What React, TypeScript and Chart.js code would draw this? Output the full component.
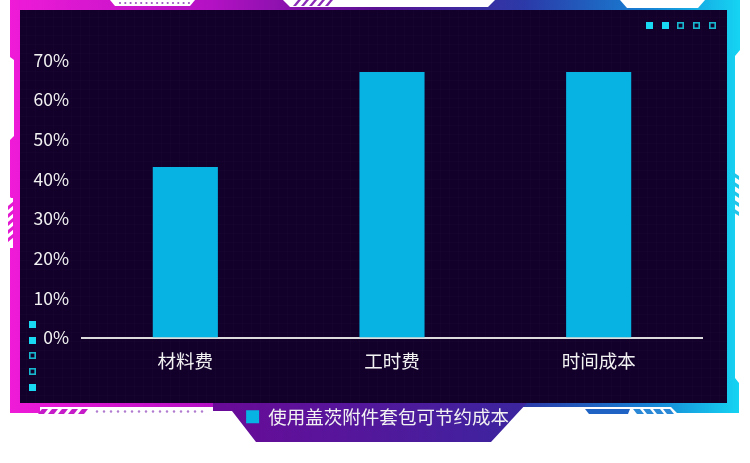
import { useEffect, useRef } from "react";
import { Chart, registerables } from "chart.js";

Chart.register(...registerables);

const categories = ["材料费", "工时费", "时间成本"];
const savings = [43, 67, 67];
const seriesLabel = "使用盖茨附件套包可节约成本";
const yMax = 70;
const yStep = 10;

const FONT = '"Noto Sans CJK SC", "Noto Sans", sans-serif';
const BAR = "#07b3e2";
const CYAN = "#19d9f2";

// legend sits a bit right of the canvas centre in the original
const legendShift = {
  id: "legendShift",
  afterLayout(chart: any) {
    const l = chart.legend;
    if (l) {
      l.left += 12.5;
      l.right += 12.5;
    }
  },
};

function Frame() {
  const leftSquares = [
    { y: 321, filled: true },
    { y: 337, filled: true },
    { y: 352, filled: false },
    { y: 368, filled: false },
    { y: 384, filled: true },
  ];
  const topSquares = [
    { x: 646, filled: true },
    { x: 662, filled: true },
    { x: 677, filled: false },
    { x: 693, filled: false },
    { x: 709, filled: false },
  ];
  const sq = (x: number, y: number, filled: boolean, k: string) =>
    filled ? (
      <rect key={k} x={x} y={y} width={7} height={7} fill={CYAN} />
    ) : (
      <rect key={k} x={x + 0.8} y={y + 0.8} width={5.4} height={5.4} fill="none" stroke="#17b8cf" strokeWidth={1.6} />
    );

  return (
    <svg width={750} height={463} style={{ position: "absolute", left: 0, top: 0 }}>
      <defs>
        <linearGradient id="frameGrad" gradientUnits="userSpaceOnUse" x1="0" y1="0" x2="750" y2="0">
          <stop offset="0" stopColor="#f21bd8" />
          <stop offset="0.28" stopColor="#b411c4" />
          <stop offset="0.5" stopColor="#5a1192" />
          <stop offset="0.7" stopColor="#2b3aa8" />
          <stop offset="0.86" stopColor="#177fd2" />
          <stop offset="1" stopColor="#15ddf6" />
        </linearGradient>
        <linearGradient id="tabGrad" gradientUnits="userSpaceOnUse" x1="213" y1="0" x2="527" y2="0">
          <stop offset="0" stopColor="#6a0a98" />
          <stop offset="1" stopColor="#3b259f" />
        </linearGradient>
        <pattern id="grid" width="9" height="9" patternUnits="userSpaceOnUse">
          <rect width="9" height="9" fill="#12002a" />
          <path d="M9 0 V9 M0 9 H9" stroke="rgba(255,255,255,0.025)" strokeWidth="1" />
        </pattern>
      </defs>

      <path
        d="M10,0 H740 V50 L735,56 V378 L739,383 V413 H677 L671,407 H40 V413 H10 V248 L13,245 V200 L10,197 V140 L14,136 V60 L10,57 Z"
        fill="url(#frameGrad)"
      />
      <path d="M213,403 H527 L491,442 H256 L232,411 H213 Z" fill="url(#tabGrad)" />

      {/* top notches */}
      <path d="M110,0 H195 L190,6 H115 Z" fill="#fff" />
      {Array.from({ length: 14 }, (_, i) => (
        <circle key={"td" + i} cx={120 + i * 5.3} cy={3} r={1.1} fill="#9a4fc0" />
      ))}
      <path d="M283,0 H495 L488,7 H290 Z" fill="#fff" />
      {[0, 1, 2, 3, 4].map((i) => (
        <path key={"ts" + i} d={`M${293 + i * 8},6 L${298 + i * 8},0 H${301 + i * 8} L${296 + i * 8},6 Z`} fill="#8a2bb8" />
      ))}
      <path d="M620,0 H705 L698,8 H627 Z" fill="#fff" />

      {/* left stripes */}
      <rect x={4} y={198} width={9} height={50} fill="#fff" />
      {[0, 1, 2, 3, 4].map((i) => (
        <path key={"ls" + i} d={`M8,${206 + i * 8} L14,${201 + i * 8} V${205 + i * 8} L8,${210 + i * 8} Z`} fill="#e31ad2" />
      ))}
      {/* right stripes */}
      <rect x={735} y={165} width={8} height={56} fill="#fff" />
      {[0, 1, 2, 3, 4].map((i) => (
        <path key={"rs" + i} d={`M733,${172 + i * 9} L739,${176 + i * 9} V${180 + i * 9} L733,${176 + i * 9} Z`} fill="#22c6ea" />
      ))}

      {/* bottom decorations */}
      {[0, 1, 2, 3, 4].map((i) => (
        <path key={"bs" + i} d={`M${38 + i * 10},414 L${42 + i * 10},409 H${48 + i * 10} L${44 + i * 10},414 Z`} fill="#c51bc9" />
      ))}
      {Array.from({ length: 16 }, (_, i) => (
        <circle key={"bd" + i} cx={97 + i * 7} cy={411.5} r={1.2} fill="#b07ad0" />
      ))}
      <path d="M585,409 H630 L628,414 H589 Z" fill="#1f63c4" />
      {[0, 1, 2, 3].map((i) => (
        <path key={"rb" + i} d={`M${633 + i * 10},409 H${640 + i * 10} L${644 + i * 10},414 H${637 + i * 10} Z`} fill="#2a88d6" />
      ))}

      <rect x={20} y={10} width={707} height={393} fill="url(#grid)" />

      {leftSquares.map((s, i) => sq(29, s.y, s.filled, "l" + i))}
      {topSquares.map((s, i) => sq(s.x, 22, s.filled, "t" + i))}
    </svg>
  );
}

export default function App() {
  const canvasRef = useRef<HTMLCanvasElement>(null);
  const chartRef = useRef<Chart | null>(null);

  useEffect(() => {
    if (!canvasRef.current) return;
    const ctx = canvasRef.current.getContext("2d");
    if (!ctx) return;
    if (chartRef.current) chartRef.current.destroy();

    chartRef.current = new Chart(ctx, {
      type: "bar",
      data: {
        labels: categories,
        datasets: [
          {
            label: seriesLabel,
            data: savings,
            backgroundColor: BAR,
            categoryPercentage: 1,
            barPercentage: 0.315,
          },
        ],
      },
      plugins: [legendShift],
      options: {
        animation: false,
        responsive: true,
        maintainAspectRatio: false,
        layout: { padding: { top: 60, left: 28, right: 48, bottom: 27 } },
        plugins: {
          tooltip: { enabled: false },
          legend: {
            position: "bottom",
            labels: {
              color: "#f2f2f2",
              boxWidth: 13,
              boxHeight: 13,
              padding: 10,
              font: { family: FONT, size: 18.5 },
            },
          },
        },
        scales: {
          x: {
            grid: { display: false, drawTicks: false },
            border: { display: true, color: "#dcdcdc", width: 2 },
            ticks: { color: "#f2f2f2", padding: 12, font: { family: FONT, size: 18.5 } },
            afterFit: (scale: any) => {
              scale.height = 60;
            },
          },
          y: {
            min: 0,
            max: yMax,
            grid: { display: false, drawTicks: false },
            border: { display: false },
            ticks: {
              stepSize: yStep,
              color: "#f2f2f2",
              padding: 13,
              font: { family: FONT, size: 17.5 },
              callback: (v: any) => v + "%",
            },
            afterFit: (scale: any) => {
              scale.width = 54;
            },
          },
        },
      },
    });

    return () => {
      if (chartRef.current) {
        chartRef.current.destroy();
        chartRef.current = null;
      }
    };
  }, []);

  return (
    <div style={{ position: "fixed", left: 0, top: 0, width: 750, height: 463, background: "#fff" }}>
      <Frame />
      <div style={{ position: "absolute", left: 0, top: 0, width: 750, height: 463 }}>
        <canvas ref={canvasRef} />
      </div>
    </div>
  );
}
